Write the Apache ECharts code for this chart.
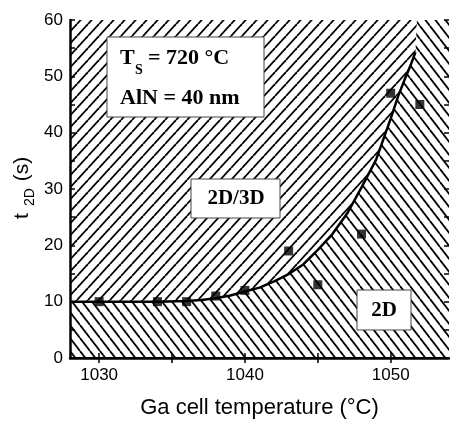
<!DOCTYPE html>
<html lang="en">
<head>
    <meta charset="utf-8">
    <title>t2D vs Ga cell temperature</title>
    <script src="https://cdn.jsdelivr.net/npm/echarts@6/dist/echarts.min.js"></script>
    <style>
        html, body { margin: 0; padding: 0; background: #fff; }
    </style>
</head>
<body>
<div id="main" style="width:450px;height:428px;"></div>

<script type="text/javascript">
    // measured points (squares)
    var tempData = [1030, 1034, 1036, 1038, 1040, 1043, 1045, 1048, 1050, 1052];
    var timeData = [10, 10, 10, 11, 12, 19, 13, 22, 47, 45];

    // solid boundary curve
    var fitT = [1028, 1030, 1032, 1034, 1036, 1037, 1038, 1039, 1040, 1041, 1042, 1043, 1044,
        1045, 1046, 1047, 1048, 1049, 1050, 1050.5, 1051, 1051.4, 1051.7];
    var fitY = [10, 10, 10, 10, 10.1, 10.3, 10.6, 11.1, 11.8, 12.5, 13.6, 14.9, 16.6,
        19.2, 22.0, 25.6, 30.3, 35.2, 42.5, 46.4, 49.7, 52.2, 54.3];

    // 2D region continues straight up from the end of the curve
    var edgeT = [1051.8, 1054];
    var edgeY = [60, 60];

    var xTicks = [1030, 1035, 1040, 1045, 1050];
    var xLabels = [1030, 1040, 1050];
    var yTicks = [0, 5, 10, 15, 20, 25, 30, 35, 40, 45, 50, 55, 60];

    function pairs(xs, ys) {
        return xs.map(function (x, i) { return [x, ys[i]]; });
    }

    // hatch tile, white background + one diagonal line
    function hatch(w, h, dir) {
        var c = document.createElement('canvas');
        c.width = w;
        c.height = h;
        var g = c.getContext('2d');
        g.fillStyle = '#fff';
        g.fillRect(0, 0, w, h);
        g.strokeStyle = '#000';
        g.lineWidth = 1.8;
        for (var k = -1; k <= 1; k++) {
            g.beginPath();
            if (dir === '/') {
                g.moveTo(k * w, h);
                g.lineTo(k * w + w, 0);
            } else {
                g.moveTo(k * w, 0);
                g.lineTo(k * w + w, h);
            }
            g.stroke();
        }
        return c;
    }

    var fwd = hatch(11, 12, '/');
    var back = hatch(10, 13, '\\');

    var sans = 'Liberation Sans, Arial, sans-serif';
    var serif = 'Liberation Serif, Times New Roman, serif';

    var chart = echarts.init(document.getElementById('main'), null, {renderer: 'canvas'});

    var full = [[1028, 60], [1054, 60]];
    var lower = pairs(fitT, fitY).concat(pairs(edgeT, edgeY));

    var tickStyle = {color: '#000', width: 1.5};

    chart.setOption({
        animation: false,
        backgroundColor: '#fff',
        grid: {left: 70, right: 1, top: 20, bottom: 70},
        xAxis: [{
            type: 'value', min: 1028, max: 1054, position: 'bottom', z: 10,
            axisLine: {show: true, lineStyle: {color: '#000', width: 2.5}},
            axisTick: {show: true, inside: true, length: 5, customValues: xTicks, lineStyle: tickStyle},
            axisLabel: {customValues: xLabels, color: '#000', fontSize: 17, fontFamily: sans, margin: 9,
                formatter: function (v) { return String(v); }},
            splitLine: {show: false},
            name: 'Ga cell temperature (°C)', nameLocation: 'middle', nameGap: 39,
            nameTextStyle: {color: '#000', fontSize: 22, fontFamily: sans}
        }, {
            type: 'value', min: 1028, max: 1054, position: 'top', z: 10,
            axisLine: {show: true, lineStyle: {color: '#000', width: 2}},
            axisTick: {show: true, inside: true, length: 5, customValues: xTicks, lineStyle: tickStyle},
            axisLabel: {show: false},
            splitLine: {show: false}
        }],
        yAxis: [{
            type: 'value', min: 0, max: 60, interval: 10, position: 'left', z: 10,
            axisLine: {show: true, lineStyle: {color: '#000', width: 2.5}},
            axisTick: {show: true, inside: true, length: 5, customValues: yTicks, lineStyle: tickStyle},
            axisLabel: {color: '#000', fontSize: 17, fontFamily: sans, margin: 7},
            splitLine: {show: false}
        }, {
            type: 'value', min: 0, max: 60, interval: 10, position: 'right', z: 10,
            axisLine: {show: false},
            axisTick: {show: true, inside: true, length: 5, customValues: yTicks, lineStyle: tickStyle},
            axisLabel: {show: false},
            splitLine: {show: false}
        }],
        series: [{
            // 2D/3D region
            type: 'line', data: full, symbol: 'none', z: 1,
            lineStyle: {width: 0},
            areaStyle: {color: {image: fwd, repeat: 'repeat'}, opacity: 1}
        }, {
            // 2D region
            type: 'line', data: lower, symbol: 'none', z: 2,
            lineStyle: {width: 0},
            areaStyle: {color: {image: back, repeat: 'repeat'}, opacity: 1}
        }, {
            type: 'line', data: pairs(fitT, fitY), symbol: 'none', z: 3,
            lineStyle: {color: '#000', width: 2.5}
        }, {
            type: 'scatter', data: pairs(tempData, timeData), symbol: 'rect', symbolSize: 9, z: 4,
            itemStyle: {color: '#000'}
        }],
        graphic: [
            {type: 'rect', z: 100, shape: {x: 107, y: 37, width: 157, height: 80},
                style: {fill: '#fff', stroke: '#444', lineWidth: 1}},
            {type: 'text', z: 101, x: 120, y: 58,
                style: {text: 'T', font: 'bold 22px ' + serif, fill: '#000', verticalAlign: 'middle'}},
            {type: 'text', z: 101, x: 135, y: 70,
                style: {text: 'S', font: 'bold 14px ' + serif, fill: '#000', verticalAlign: 'middle'}},
            {type: 'text', z: 101, x: 148, y: 58,
                style: {text: '= 720 °C', font: 'bold 22px ' + serif, fill: '#000', verticalAlign: 'middle'}},
            {type: 'text', z: 101, x: 120, y: 98,
                style: {text: 'AlN = 40 nm', font: 'bold 22px ' + serif, fill: '#000', verticalAlign: 'middle'}},

            {type: 'rect', z: 100, shape: {x: 191, y: 179, width: 89, height: 39},
                style: {fill: '#fff', stroke: '#444', lineWidth: 1}},
            {type: 'text', z: 101, x: 236, y: 199,
                style: {text: '2D/3D', font: 'bold 21px ' + serif, fill: '#000', align: 'center', verticalAlign: 'middle'}},

            {type: 'rect', z: 100, shape: {x: 357, y: 290, width: 54, height: 40},
                style: {fill: '#fff', stroke: '#444', lineWidth: 1}},
            {type: 'text', z: 101, x: 384, y: 311,
                style: {text: '2D', font: 'bold 21px ' + serif, fill: '#000', align: 'center', verticalAlign: 'middle'}},

            // y axis title t_2D (s), rotated
            {type: 'text', z: 101, x: 22, y: 216, rotation: Math.PI / 2,
                style: {text: 't', font: '21px ' + sans, fill: '#000', align: 'center', verticalAlign: 'middle'}},
            {type: 'text', z: 101, x: 30, y: 197, rotation: Math.PI / 2,
                style: {text: '2D', font: '14px ' + sans, fill: '#000', align: 'center', verticalAlign: 'middle'}},
            {type: 'text', z: 101, x: 22, y: 169, rotation: Math.PI / 2,
                style: {text: '(s)', font: '21px ' + sans, fill: '#000', align: 'center', verticalAlign: 'middle'}}
        ]
    });
</script>
</body>
</html>
